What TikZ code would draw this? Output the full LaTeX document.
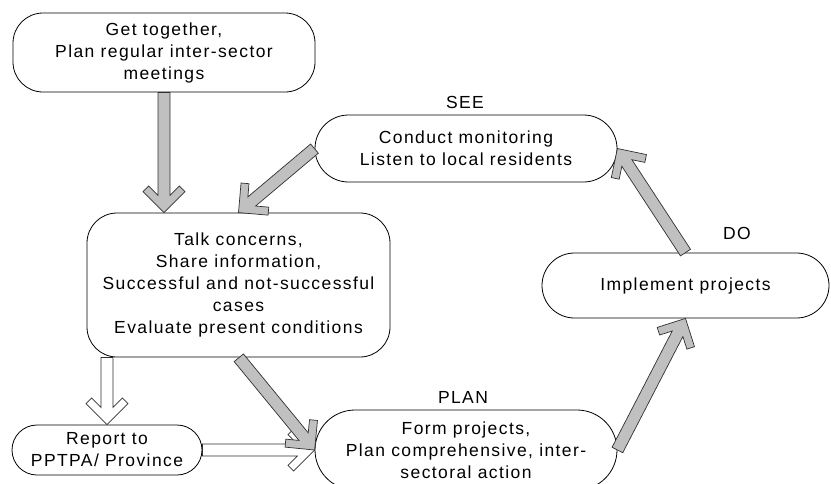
\documentclass[tikz,border=0pt]{standalone}
\usepackage{fontspec}
\setmainfont{Liberation Sans}[LetterSpace=8]
\usetikzlibrary{calc}
\definecolor{arrowgray}{HTML}{C0C0C0}
\definecolor{edgegray}{HTML}{303030}
\newcommand{\shafthw}{6}
\newcommand{\armlen}{21}
\newcommand{\armw}{8}
% block arrow with an open chevron head, from #2 to #3
\newcommand{\fatarrow}[3][arrowgray]{%
	\path let \p1=($(#3)-(#2)$) in \pgfextra{%
		\pgfmathsetmacro{\arrang}{atan2(\y1,\x1)}\global\let\arrang\arrang
		\pgfmathsetmacro{\arrlen}{veclen(\x1,\y1)}\global\let\arrlen\arrlen};
	\begin{scope}[shift={(#3)},rotate=\arrang]
		\draw[arrowline,fill=#1] (-\arrlen,\shafthw) -- ({-\armw*sqrt(2)-\shafthw},\shafthw)
			-- ({-\armlen-\armw/sqrt(2)},{\armlen-\armw/sqrt(2)}) -- (-\armlen,\armlen) -- (0,0)
			-- (-\armlen,-\armlen) -- ({-\armlen-\armw/sqrt(2)},{-\armlen+\armw/sqrt(2)})
			-- ({-\armw*sqrt(2)-\shafthw},-\shafthw) -- (-\arrlen,-\shafthw) -- cycle;
	\end{scope}}

\begin{document}
\begin{tikzpicture}[x=1pt,y=-1pt,
	box/.style={draw,line width=0.8pt,align=center,inner sep=0pt,
		font=\fontsize{17.5}{22}\selectfont},
	phase/.style={inner sep=0pt,font=\fontsize{17.5}{22}\selectfont},
	arrowline/.style={draw=edgegray,line width=0.7pt,line join=miter}]
	\useasboundingbox (0,0) rectangle (831,483);
	\clip (0,0) rectangle (831,483);
	
	\node[box,minimum width=302,minimum height=79,rounded corners=30] (meet) at (164,52.5)
		{Get together,\\Plan regular inter-sector\\meetings};
	\node[box,minimum width=303,minimum height=144,rounded corners=30] (talk) at (238.5,285)
		{Talk concerns,\\Share information,\\Successful and not-successful\\cases\\Evaluate present conditions};
	\node[box,minimum width=302,minimum height=67,rounded corners=33.5] (see) at (466,148.5)
		{Conduct monitoring\\Listen to local residents};
	\node[box,minimum width=287,minimum height=65,rounded corners=32.5] (impl) at (685.5,285.5)
		{Implement projects};
	\node[box,minimum width=302,minimum height=80,rounded corners=40] (plan) at (466,450)
		{Form projects,\\Plan comprehensive, inter-\\sectoral action};
	\node[box,minimum width=190,minimum height=50,rounded corners=25] (report) at (107,450)
		{Report to\\PPTPA/ Province};
	
	\node[phase] (seelbl) at (465,102) {SEE};
	\node[phase] (dolbl) at (737,233) {DO};
	\node[phase] (planlbl) at (463,397) {PLAN};
	
	\fatarrow[white]{report.north |- talk.south}{report.north}
	\fatarrow[white]{report.east}{plan.west}
	\fatarrow{meet.south}{meet.south |- talk.north}
	\fatarrow{see.west}{talk.north}
	\fatarrow{talk.south}{plan.west}
	\fatarrow{plan.east}{impl.south}
	\fatarrow{impl.north}{see.east}
\end{tikzpicture}
\end{document}
